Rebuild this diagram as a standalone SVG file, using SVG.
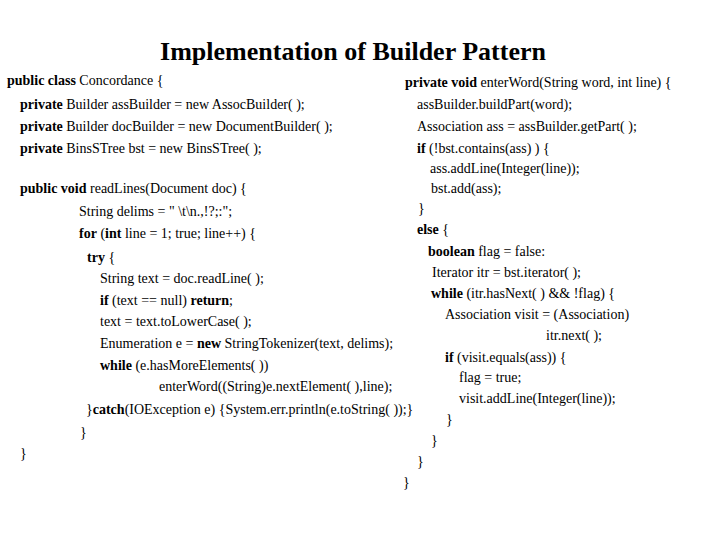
<svg xmlns="http://www.w3.org/2000/svg" width="720" height="540" viewBox="0 0 720 540">
<style>
text{font-family:"Liberation Serif","Times New Roman",serif;font-size:14px;fill:#000}
.t{font-size:26px;font-weight:bold}
tspan.b{font-weight:bold}
</style>
<rect width="720" height="540" fill="#fff"/>
<g id="title"><text class="t" x="353" y="60" text-anchor="middle">Implementation of Builder Pattern</text></g>
<g id="left">
<text x="7" y="85"><tspan class="b">public class</tspan> Concordance {</text>
<text x="20" y="109"><tspan class="b">private</tspan>  Builder  assBuilder = new AssocBuilder( );</text>
<text x="20" y="131"><tspan class="b">private</tspan> Builder docBuilder = new DocumentBuilder( );</text>
<text x="20" y="153"><tspan class="b">private</tspan> BinsSTree bst = new BinsSTree( );</text>
<text x="20" y="193"><tspan class="b">public void</tspan> readLines(Document doc) {</text>
<text x="79" y="216">String delims = " \t\n.,!?;:";</text>
<text x="79" y="238"><tspan class="b">for</tspan> (<tspan class="b">int</tspan> line = 1; true; line++) {</text>
<text x="87" y="262"><tspan class="b">try</tspan> {</text>
<text x="100" y="283">String text = doc.readLine( );</text>
<text x="100" y="305"><tspan class="b">if</tspan> (text == null) <tspan class="b">return</tspan>;</text>
<text x="100" y="326">text = text.toLowerCase( );</text>
<text x="100" y="348">Enumeration e = <tspan class="b">new</tspan>  StringTokenizer(text, delims);</text>
<text x="100" y="370"><tspan class="b">while</tspan> (e.hasMoreElements( ))</text>
<text x="159" y="391">enterWord((String)e.nextElement( ),line);</text>
<text x="86" y="414">}<tspan class="b">catch</tspan>(IOException e) {System.err.println(e.toString( ));}</text>
<text x="80" y="437">}</text>
<text x="20" y="458">}</text>
</g>
<g id="right">
<text x="405" y="87"><tspan class="b">private void</tspan>  enterWord(String word, int line) {</text>
<text x="417" y="109">assBuilder.buildPart(word);</text>
<text x="417" y="131">Association ass = assBuilder.getPart( );</text>
<text x="417" y="153"><tspan class="b">if</tspan> (!bst.contains(ass) ) {</text>
<text x="430" y="173">ass.addLine(Integer(line));</text>
<text x="431" y="193">bst.add(ass);</text>
<text x="418" y="213">}</text>
<text x="417" y="234"><tspan class="b">else</tspan> {</text>
<text x="428" y="256"><tspan class="b">boolean</tspan> flag = false:</text>
<text x="432" y="277">Iterator itr = bst.iterator( );</text>
<text x="431" y="298"><tspan class="b">while</tspan> (itr.hasNext( ) &amp;&amp; !flag) {</text>
<text x="445" y="319">Association visit = (Association)</text>
<text x="546" y="340">itr.next( );</text>
<text x="445" y="362"><tspan class="b">if</tspan> (visit.equals(ass))  {</text>
<text x="459" y="382">flag = true;</text>
<text x="459" y="403">visit.addLine(Integer(line));</text>
<text x="446" y="424">}</text>
<text x="431" y="445">}</text>
<text x="417" y="466">}</text>
<text x="403" y="487">}</text>
</g>
</svg>
